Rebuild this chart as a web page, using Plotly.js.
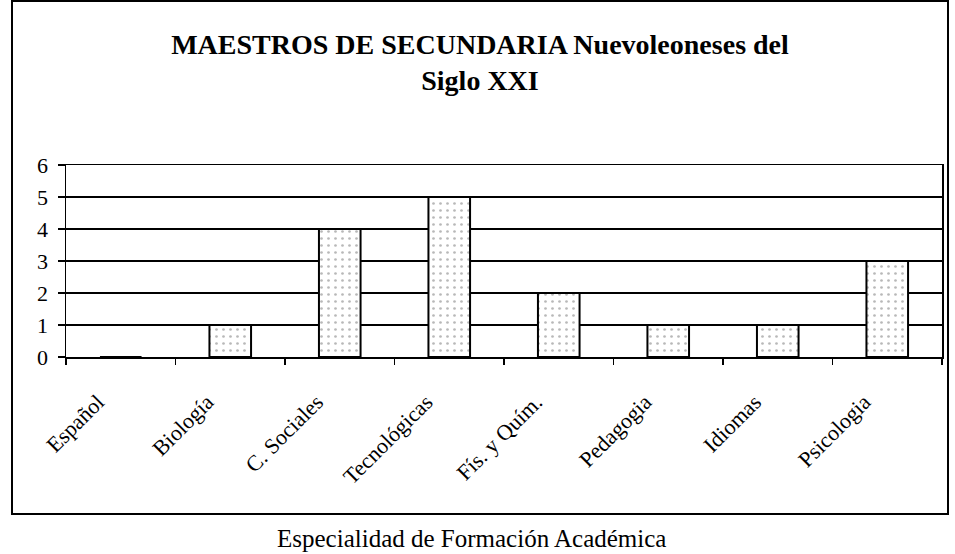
<!DOCTYPE html>
<html>
<head>
<meta charset="utf-8">
<script src="https://cdn.plot.ly/plotly-3.0.1.min.js"></script>
<style>html,body{margin:0;padding:0;background:#fff;}#chart{width:955px;height:554px;}</style>
</head>
<body>
<div id="chart"></div>
<script>
const categories = ["Español", "Biología", "C. Sociales", "Tecnológicas", "Fís. y Quím.", "Pedagogia", "Idiomas", "Psicologia"];
const values = [0, 1, 4, 5, 2, 1, 1, 3];
const yTicks = [0, 1, 2, 3, 4, 5, 6];
const titleText = "MAESTROS DE SECUNDARIA Nuevoleoneses del<br>Siglo XXI";
const xTitle = "Especialidad de Formación Académica";

const serif = "Liberation Serif, Times New Roman, serif";

const trace = {
  type: "bar",
  x: categories,
  y: values,
  width: 0.38,
  marker: {
    color: "#ffffff",
    line: {color: "#000000", width: 2},
    pattern: {shape: ".", fgcolor: "#b8b8b8", bgcolor: "#ffffff", size: 7, solidity: 0.12}
  },
  hoverinfo: "x+y"
};

const layout = {
  width: 955,
  height: 554,
  margin: {l: 66, r: 13, t: 165, b: 197},
  paper_bgcolor: "#ffffff",
  plot_bgcolor: "#ffffff",
  showlegend: false,
  font: {family: serif, color: "#000000"},
  title: {
    text: titleText,
    font: {family: serif, size: 28, weight: "bold", color: "#000"},
    x: (480) / 955, xref: "container", xanchor: "center",
    y: 1 - 54/554, yref: "container", yanchor: "middle"
  },
  xaxis: {
    type: "category",
    tickson: "boundaries",
    ticks: "outside",
    ticklen: 6,
    tickcolor: "#000",
    tickwidth: 1.5,
    tickangle: -45,
    ticklabelstandoff: 22,
    ticklabelshift: -23,
    tickfont: {family: serif, size: 22, color: "#000"},
    showline: true,
    linecolor: "#000",
    linewidth: 1.5,
    mirror: true,
    showgrid: false,
    automargin: false
  },
  yaxis: {
    range: [0, 6],
    tickvals: yTicks,
    ticks: "outside",
    ticklen: 7,
    tickcolor: "#000",
    tickwidth: 1.5,
    ticklabelstandoff: 5,
    tickfont: {family: serif, size: 22, color: "#000"},
    showline: true,
    linecolor: "#000",
    linewidth: 1.5,
    mirror: true,
    showgrid: true,
    gridcolor: "#000",
    gridwidth: 1.5,
    zeroline: false,
    automargin: false
  },
  annotations: [{
    text: xTitle,
    xref: "paper", yref: "paper",
    x: (471 - 66) / 876, y: (357 - 538) / 192,
    xanchor: "center", yanchor: "middle",
    showarrow: false,
    font: {family: serif, size: 25, color: "#000"}
  }],
  shapes: [{
    type: "rect",
    xref: "paper", yref: "paper",
    x0: (12 - 66) / 876, x1: (948 - 66) / 876,
    y0: (357 - 514) / 192, y1: (357 - 1) / 192,
    line: {color: "#000", width: 2},
    fillcolor: "rgba(0,0,0,0)",
    layer: "below"
  }]
};

Plotly.newPlot("chart", [trace], layout, {displayModeBar: false, staticPlot: true});
</script>
</body>
</html>
